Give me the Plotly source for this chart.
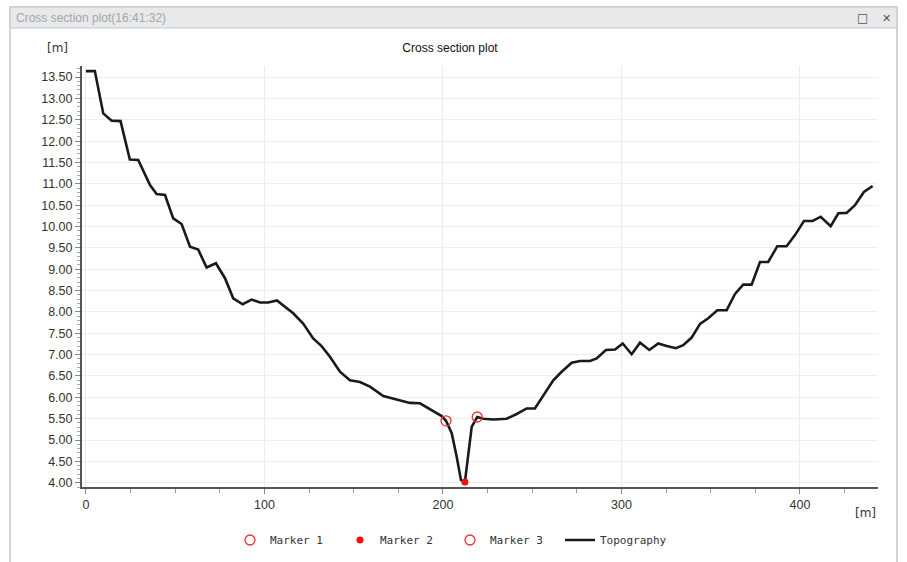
import plotly.graph_objects as go

# ---- data ----
distance_m = [0, 5, 9.7, 14.4, 19.4, 24.6, 29.3, 35.9, 39.6, 44.3, 48.9, 53.6, 58.3, 62.9, 67.6,
              72.8, 77.9, 82.5, 87.8, 92.8, 97.5, 102.1, 107, 116.1, 121.7, 127.3, 132, 136.7,
              142.3, 147.9, 153.5, 159.1, 166.6, 174.1, 181.5, 187.1, 193.7, 199.3, 201.7, 204.9,
              207.7, 210.1, 212.3, 214.2, 216.1, 219.2, 222.6, 228.2, 235.7, 241.3, 246.9, 251.5,
              256.2, 261.8, 266.5, 272.1, 276.8, 282.4, 286.1, 291.3, 296.4, 300.7, 305.7, 310.4,
              315.6, 320.6, 325.3, 330.5, 334.6, 339.3, 344.0, 348.6, 353.7, 358.9, 363.6, 368.2,
              372.9, 377.6, 382.2, 387.3, 392.5, 397.2, 402.2, 407.1, 411.6, 417.2, 421.5, 426.1,
              430.8, 435.8, 440.7]
elevation_m = [13.64, 13.64, 12.65, 12.48, 12.47, 11.57, 11.56, 10.97, 10.76, 10.74, 10.19, 10.06,
               9.53, 9.46, 9.04, 9.14, 8.79, 8.32, 8.18, 8.29, 8.22, 8.22, 8.27, 7.97, 7.73, 7.38,
               7.20, 6.95, 6.60, 6.40, 6.36, 6.25, 6.03, 5.95, 5.87, 5.86, 5.70, 5.56, 5.45, 5.16,
               4.61, 4.06, 4.02, 4.61, 5.31, 5.54, 5.50, 5.48, 5.50, 5.61, 5.74, 5.74, 6.05, 6.40,
               6.60, 6.81, 6.85, 6.85, 6.91, 7.11, 7.12, 7.26, 7.01, 7.28, 7.11, 7.26, 7.20, 7.15,
               7.22, 7.40, 7.72, 7.85, 8.04, 8.04, 8.42, 8.64, 8.64, 9.17, 9.17, 9.54, 9.54, 9.80,
               10.13, 10.13, 10.23, 10.01, 10.31, 10.32, 10.50, 10.81, 10.95]

marker1_x, marker1_y = [201.7], [5.45]
marker2_x, marker2_y = [212.3], [4.02]
marker3_x, marker3_y = [219.2], [5.54]

x_ticks = [0, 100, 200, 300, 400]

W, H = 907, 562
L, R, T, B = 82, 878, 66, 487  # plot area in pixels
PW, PH = R - L, B - T


def px(x):
    return (x - L) / PW


def py(y):
    return (B - y) / PH


fig = go.Figure()

fig.add_trace(go.Scatter(x=distance_m, y=elevation_m, mode="lines", name="Topography",
                         legendrank=4, line=dict(color="#1a1a1a", width=2.6)))
fig.add_trace(go.Scatter(x=marker1_x, y=marker1_y, mode="markers", name="Marker 1",
                         legendrank=1,
                         marker=dict(symbol="circle-open", size=10, color="#f03030",
                                     line=dict(width=1.3, color="#f03030"))))
fig.add_trace(go.Scatter(x=marker2_x, y=marker2_y, mode="markers", name="Marker 2",
                         legendrank=2,
                         marker=dict(symbol="circle", size=7, color="#f01010")))
fig.add_trace(go.Scatter(x=marker3_x, y=marker3_y, mode="markers", name="Marker 3",
                         legendrank=3,
                         marker=dict(symbol="circle-open", size=10, color="#f03030",
                                     line=dict(width=1.3, color="#f03030"))))

axis_font = dict(family="Liberation Sans, Arial, sans-serif", size=12.5, color="#333333")

fig.update_layout(
    template="none",
    width=W, height=H,
    margin=dict(l=L, r=W - R, t=T, b=H - B, pad=0, autoexpand=False),
    paper_bgcolor="white", plot_bgcolor="white",
    showlegend=True,
    legend=dict(orientation="h", xref="container", yref="container",
                x=230 / W, xanchor="left", y=1 - 540 / H, yanchor="middle",
                font=dict(family="DejaVu Sans Mono, monospace", size=11, color="#333333"),
                itemwidth=30, entrywidth=65, bgcolor="rgba(0,0,0,0)"),
    title=dict(text="Cross section plot", x=450 / W, xanchor="center", y=1 - 48 / H,
               yanchor="middle", font=dict(family="Liberation Sans, Arial, sans-serif",
                                           size=12, color="#111111")),
    xaxis=dict(range=[-2.2, 443.7], tickvals=x_ticks, showgrid=True, gridcolor="#ececec",
               gridwidth=1, zeroline=False, showline=True, linecolor="#555555", linewidth=2,
               ticks="outside", ticklen=5, tickcolor="#888888", tickfont=axis_font,
               automargin=False,
               minor=dict(dtick=25, tick0=0, ticks="outside", ticklen=4, tickcolor="#999999",
                          showgrid=False)),
    yaxis=dict(range=[3.9, 13.76], dtick=0.5, tick0=4, tickformat=".2f", showgrid=True,
               gridcolor="#eeeeee", gridwidth=1, zeroline=False, showline=True,
               linecolor="#555555", linewidth=2, ticks="outside", ticklen=5,
               tickcolor="#888888", tickfont=axis_font, automargin=False,
               minor=dict(dtick=0.1, tick0=4, ticks="outside", ticklen=3,
                          tickcolor="#aaaaaa", showgrid=False)),
)

# window frame
fig.add_shape(type="rect", xref="paper", yref="paper", x0=px(10), x1=px(897), y0=py(575),
              y1=py(7), line=dict(color="#c4c6c8", width=1.5), fillcolor="rgba(0,0,0,0)",
              layer="below")
fig.add_shape(type="rect", xref="paper", yref="paper", x0=px(10), x1=px(897), y0=py(28),
              y1=py(7), line=dict(color="#c4c6c8", width=1), fillcolor="#e7e9eb",
              layer="below")
fig.add_annotation(xref="paper", yref="paper", x=px(14), y=py(18), xanchor="left",
                   yanchor="middle", showarrow=False, text="Cross section plot(16:41:32)",
                   font=dict(family="Liberation Sans Narrow, Liberation Sans, Arial", size=12,
                             color="#a4a6a8"))
fig.add_annotation(xref="paper", yref="paper", x=px(862), y=py(18), xanchor="center",
                   yanchor="middle", showarrow=False,
                   text="□", font=dict(family="DejaVu Sans", size=12, color="#555555"))
fig.add_annotation(xref="paper", yref="paper", x=px(886), y=py(18), xanchor="center",
                   yanchor="middle", showarrow=False,
                   text="✕", font=dict(family="DejaVu Sans", size=11, color="#555555"))

# axis unit labels
fig.add_annotation(xref="paper", yref="paper", x=px(57), y=py(48), xanchor="center",
                   yanchor="middle", showarrow=False,
                   text="[m]", font=dict(family="DejaVu Sans, sans-serif", size=12,
                                         color="#333333"))
fig.add_annotation(xref="paper", yref="paper", x=px(865), y=py(513), xanchor="center",
                   yanchor="middle", showarrow=False,
                   text="[m]", font=dict(family="DejaVu Sans, sans-serif", size=12,
                                         color="#333333"))

fig.write_html("out.html", post_script="document.body.style.margin='0';",
               config={"displayModeBar": False})
